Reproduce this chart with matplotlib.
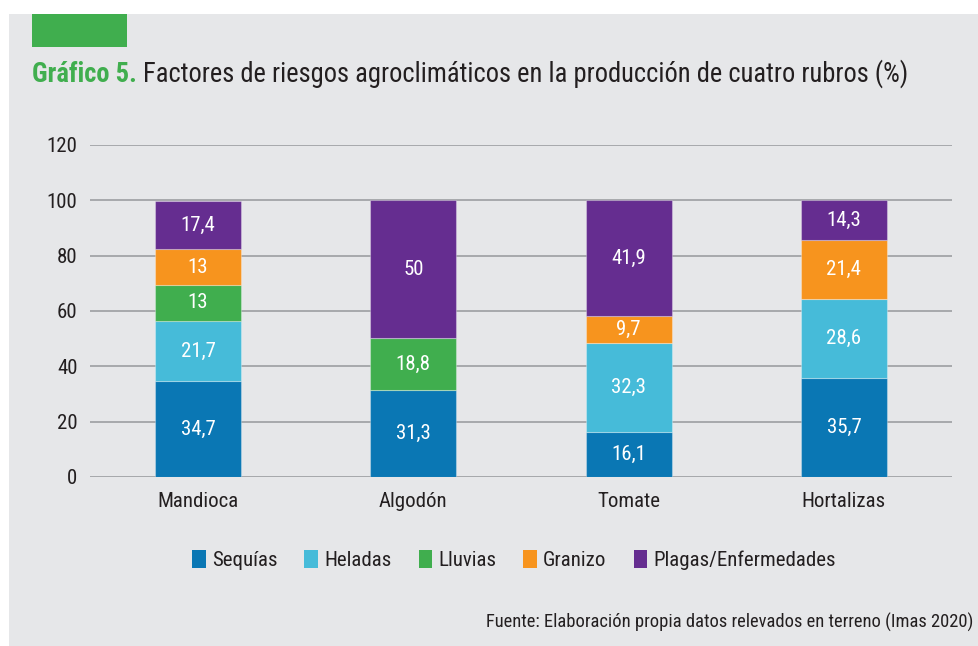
import matplotlib
matplotlib.use("Agg")
import matplotlib.pyplot as plt
from matplotlib.patches import Rectangle, Patch
import numpy as np

plt.rcParams['font.family'] = ['Roboto Condensed', 'Roboto', 'DejaVu Sans']

categories = ["Mandioca", "Algodón", "Tomate", "Hortalizas"]
series_names = ["Sequías", "Heladas", "Lluvias", "Granizo", "Plagas/Enfermedades"]
sequias = [34.7, 31.3, 16.1, 35.7]
heladas = [21.7, 0, 32.3, 28.6]
lluvias = [13, 18.8, 0, 0]
granizo = [13, 0, 9.7, 21.4]
plagas = [17.4, 50, 41.9, 14.3]
yticks = [0, 20, 40, 60, 80, 100, 120]

colors = ["#0a77b4", "#46bbd9", "#40ae4e", "#f7941e", "#652d90"]
bg = "#e6e7e9"
txt = "#231f20"

W, H = 979, 646
fig = plt.figure(figsize=(W / 100, H / 100), dpi=100)
fig.patch.set_facecolor("white")
fig.patches.append(Rectangle((9 / W, 0), 1 - 9 / W, 1 - 14 / H, transform=fig.transFigure,
                             facecolor=bg, edgecolor="none", zorder=-10))
fig.patches.append(Rectangle((32 / W, 1 - 47 / H), 95 / W, 33 / H, transform=fig.transFigure,
                             facecolor="#40ae4e", edgecolor="none", zorder=-5))

# title
t1 = fig.text(32 / W, 1 - 82 / H, "Gráfico 5.", color="#40ae4e", fontsize=19.1,
              fontweight="bold", ha="left", va="baseline")
fig.canvas.draw()
bb = t1.get_window_extent()
fig.text(bb.x1 / W + 6 / W, 1 - 82 / H, "Factores de riesgos agroclimáticos en la producción de cuatro rubros (%)",
         color=txt, fontsize=19.1, ha="left", va="baseline")

ax = fig.add_axes([90 / W, 1 - 477 / H, (952 - 90) / W, (477 - 145) / H], zorder=5)
ax.set_facecolor("none")
x = np.arange(len(categories))
bottom = np.zeros(len(categories))
for name, vals, c in zip(series_names, [sequias, heladas, lluvias, granizo, plagas], colors):
    vals = np.array(vals, dtype=float)
    ax.bar(x, vals, width=0.4, bottom=bottom, color=c, label=name, zorder=3,
           edgecolor=(1, 1, 1, 0.3), linewidth=0.8)
    for xi, v, b in zip(x, vals, bottom):
        if v > 0:
            s = ("%g" % v).replace(".", ",")
            ax.text(xi, b + v / 2, s, ha="center", va="center", color="white",
                    fontsize=15, zorder=4)
    bottom += vals

ax.set_xlim(-0.502, 3.502)
ax.set_ylim(0, 120)
ax.set_yticks(yticks)
ax.set_yticklabels([str(v) for v in yticks])
ax.set_xticks(x)
ax.set_xticklabels(categories)
ax.grid(axis="y", color="#a7a9ac", linewidth=1.4, zorder=0)
ax.set_axisbelow(True)
for s in ax.spines.values():
    s.set_visible(False)
ax.tick_params(axis="y", length=0, pad=9, labelsize=15, labelcolor=txt)
ax.tick_params(axis="x", length=0, pad=11, labelsize=15, labelcolor=txt)
ax.axhline(0, color="#a7a9ac", linewidth=1.4, zorder=2)

handles = [Patch(facecolor=c, edgecolor="none") for c in colors]
fig.legend(handles, series_names, loc="center", bbox_to_anchor=(514 / W, 1 - 560 / H), ncol=5,
           frameon=False, fontsize=15, handlelength=0.65, handleheight=0.95, handletextpad=0.3,
           columnspacing=1.3, labelcolor=txt)

fig.text(973 / W, 1 - 622 / H, "Fuente: Elaboración propia datos relevados en terreno (Imas 2020)",
         ha="right", va="center", fontsize=13.3, color=txt)

fig.savefig("out.png", dpi=100, facecolor=fig.get_facecolor())
